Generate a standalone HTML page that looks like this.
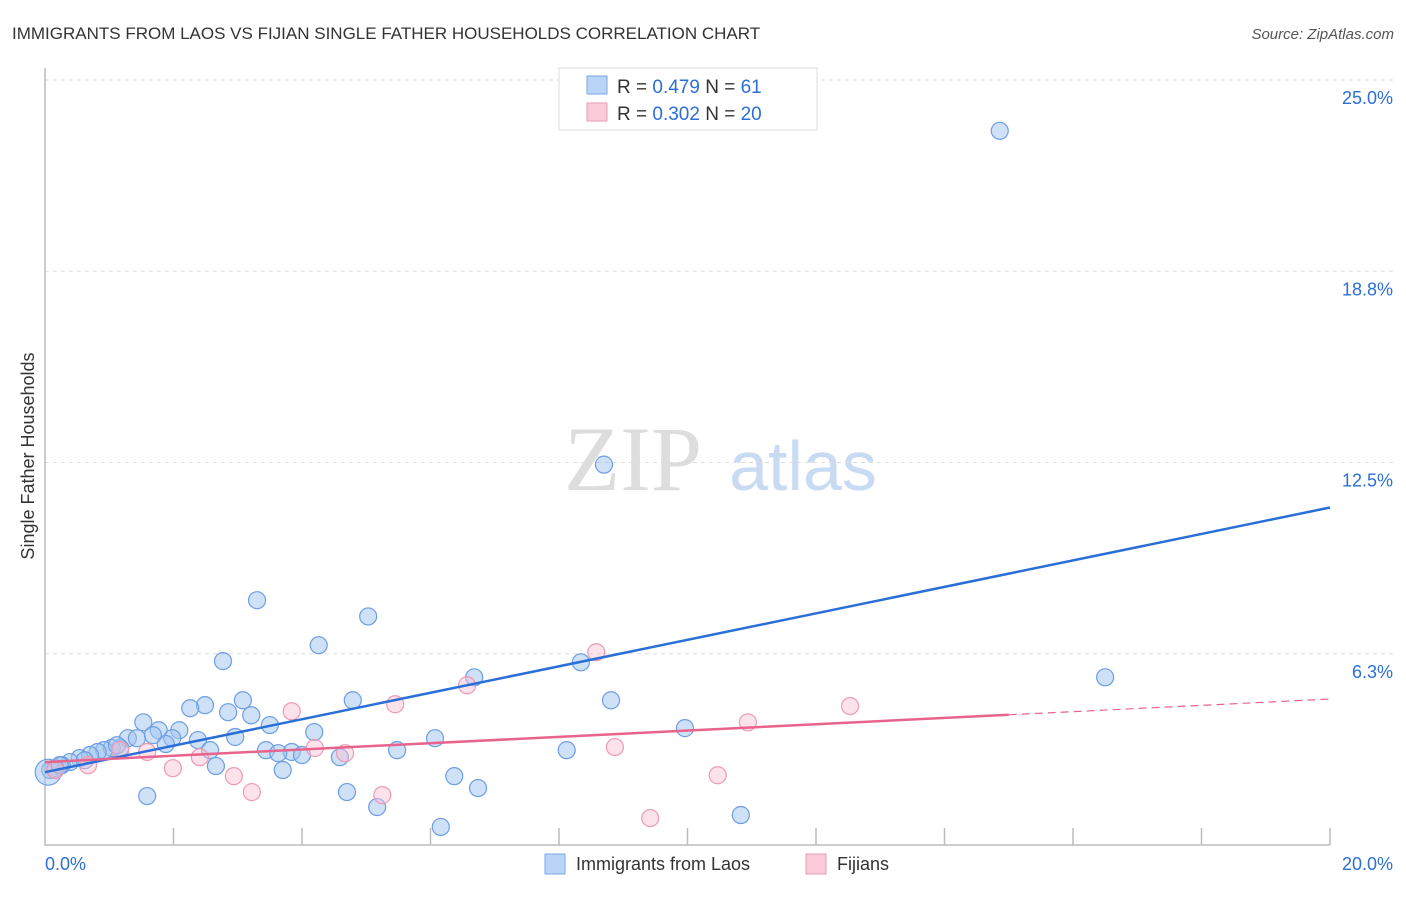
<!DOCTYPE html>
<html><head><meta charset="utf-8"><style>
body{margin:0;background:#fff;font-family:"Liberation Sans",sans-serif}
</style></head><body>
<svg width="1406" height="892" xmlns="http://www.w3.org/2000/svg" id="c">
<text x="12" y="39" font-size="17" fill="#333">IMMIGRANTS FROM LAOS VS FIJIAN SINGLE FATHER HOUSEHOLDS CORRELATION CHART</text>
<text x="1394" y="39" font-size="15" fill="#555" font-style="italic" text-anchor="end">Source: ZipAtlas.com</text>
<text x="633" y="490" font-size="92" fill="#ddd" font-family="Liberation Serif" text-anchor="middle">ZIP</text>
<text x="803" y="490" font-size="70" fill="#c9daf3" text-anchor="middle">atlas</text>
<text transform="translate(34,456) rotate(-90)" font-size="18" fill="#333" text-anchor="middle">Single Father Households</text>
<g id="grid"></g><g id="pts"></g><g id="lines"></g>
<g>
<rect x="559" y="68" width="258" height="62" fill="#fff" stroke="#ddd"/>
<rect x="587" y="76" width="20" height="18" fill="#b9d4f7" stroke="#7aa6e6"/>
<rect x="587" y="103" width="20" height="18" fill="#fbcbd9" stroke="#ee9ab3"/>
<text x="617" y="93" font-size="19" fill="#333">R = <tspan fill="#2c6fd6">0.479</tspan>   N = <tspan fill="#2c6fd6"> 61</tspan></text>
<text x="617" y="120" font-size="19" fill="#333">R = <tspan fill="#2c6fd6">0.302</tspan>   N = <tspan fill="#2c6fd6">20</tspan></text>
</g>
<g>
<rect x="545" y="854" width="20" height="20" fill="#b9d4f7" stroke="#7aa6e6"/>
<text x="576" y="870" font-size="18" fill="#333">Immigrants from Laos</text>
<rect x="806" y="854" width="20" height="20" fill="#fbcbd9" stroke="#ee9ab3"/>
<text x="837" y="870" font-size="18" fill="#333">Fijians</text>
</g>
</svg>
<script>
const yTicks=[6.25,12.5,18.75,25];
const yTickLabels=["6.3%","12.5%","18.8%","25.0%"];
const xTicks=[2,4,6,8,10,12,14,16,18,20];
const blueX=[14.86,8.70,3.30,5.03,4.26,2.77,8.34,6.68,16.50,8.81,4.79,3.08,2.49,2.26,2.85,3.21,1.53,3.50,9.96,1.77,2.09,4.19,2.96,6.07,1.29,2.38,1.98,1.88,1.43,1.17,1.04,0.92,0.82,2.57,3.44,3.84,3.63,4.00,5.48,8.12,4.59,0.70,0.54,0.39,0.26,0.16,0.08,0.05,2.66,3.70,6.37,6.74,4.70,1.59,5.17,10.83,6.16,0.23,0.62,1.12,1.68];
const blueY=[23.34,12.43,8.00,7.47,6.53,6.01,5.97,5.48,5.48,4.73,4.73,4.73,4.57,4.47,4.34,4.24,4.01,3.92,3.82,3.75,3.75,3.69,3.53,3.49,3.49,3.43,3.49,3.30,3.49,3.17,3.17,3.10,3.04,3.10,3.10,3.04,3.00,2.94,3.10,3.10,2.87,2.94,2.84,2.71,2.61,2.51,2.45,2.38,2.58,2.45,2.25,1.86,1.73,1.60,1.24,0.98,0.59,2.61,2.77,3.26,3.59];
const pinkX=[8.58,6.57,12.53,3.84,5.45,10.94,1.59,8.87,4.20,4.67,2.41,1.99,0.67,0.16,2.94,10.47,3.22,5.25,9.42,1.17];
const pinkY=[6.30,5.22,4.54,4.37,4.60,4.01,3.04,3.20,3.17,3.00,2.87,2.51,2.61,2.45,2.25,2.28,1.73,1.63,0.88,3.10];
const blueTrend=[2.38,11.03];
const pinkTrend=[2.71,4.77];
const pinkSolidEnd=15;
const X=v=>45+v/20*1285, Y=v=>845-v/25*765;
const NS="http://www.w3.org/2000/svg";
function mk(t,a,p){const e=document.createElementNS(NS,t);for(const k in a)e.setAttribute(k,a[k]);p.appendChild(e);return e;}
const g=document.getElementById('grid');
yTicks.forEach((v,i)=>{const l=mk('line',{x1:45,x2:1394,y1:Y(v),y2:Y(v),stroke:'#ddd','stroke-dasharray':'4,4'},g);


const t=mk('text',{x:1393,y:Y(v)+24,'font-size':18,fill:'#2c6fd6','text-anchor':'end'},g);t.textContent=yTickLabels[i];

});
const ax=mk('path',{d:`M45,68 V845 H1330`,stroke:'#bbb',fill:'none','stroke-width':1.5},g);


xTicks.forEach(v=>{const l=mk('line',{x1:X(v),x2:X(v),y1:828,y2:845,stroke:'#bbb','stroke-width':1.5},g);

});
[[0,"0.0%",'start',45],[20,"20.0%",'end',1393]].forEach(a=>{const t=mk('text',{x:a[3],y:870,'font-size':18,fill:'#2c6fd6','text-anchor':a[2]},g);t.textContent=a[1];

});
const p=document.getElementById('pts');
blueX.forEach((x,i)=>{const c=mk('circle',{cx:X(x),cy:Y(blueY[i]),r:i==47?13:8.5,fill:'rgba(160,196,240,0.5)',stroke:'#6d9ee3','stroke-width':1.2},p);

});
pinkX.forEach((x,i)=>{const c=mk('circle',{cx:X(x),cy:Y(pinkY[i]),r:8.5,fill:'rgba(248,190,210,0.45)',stroke:'#ee9ab3','stroke-width':1.2},p);

});
const L=document.getElementById('lines');
const bl=mk('line',{x1:X(0),y1:Y(blueTrend[0]),x2:X(20),y2:Y(blueTrend[1]),stroke:'#2a6fd8','stroke-width':2.5},L);


const pm=pinkTrend[0]+(pinkTrend[1]-pinkTrend[0])*pinkSolidEnd/20;
const pl=mk('line',{x1:X(0),y1:Y(pinkTrend[0]),x2:X(pinkSolidEnd),y2:Y(pm),stroke:'#e8648d','stroke-width':2.5},L);


const pd=mk('line',{x1:X(pinkSolidEnd),y1:Y(pm),x2:X(20),y2:Y(pinkTrend[1]),stroke:'#e8648d','stroke-width':1.2,'stroke-dasharray':'8,5'},L);


</script>
</body></html>
